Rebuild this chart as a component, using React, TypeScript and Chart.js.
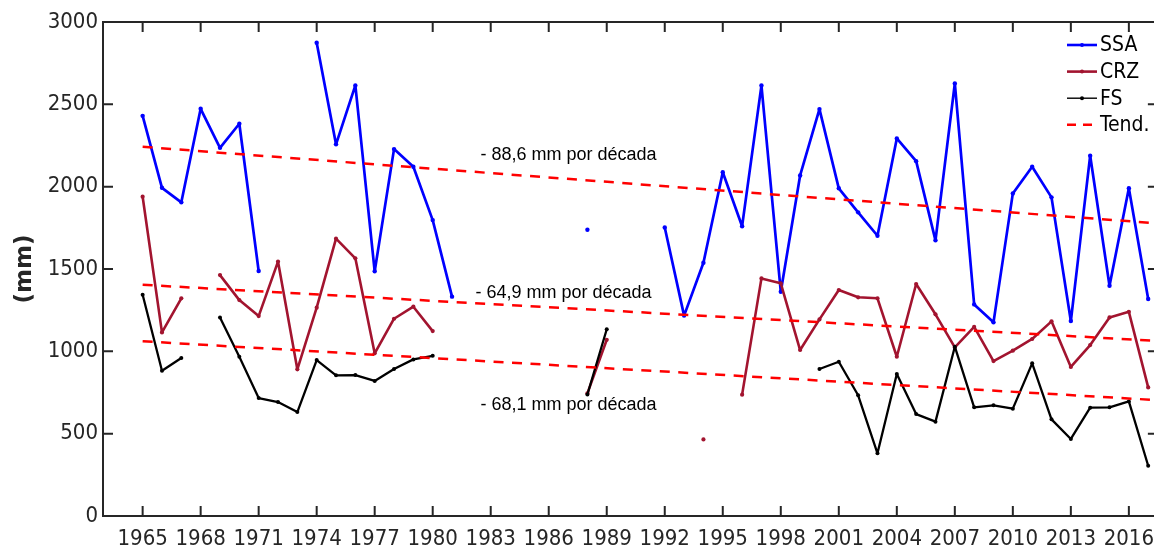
import React, { useEffect, useRef } from "react";
import { Chart, registerables } from "chart.js";

Chart.register(...registerables);

// Annual precipitation (mm) per station
const years = [
  1965, 1966, 1967, 1968, 1969, 1970, 1971, 1972, 1973, 1974,
  1975, 1976, 1977, 1978, 1979, 1980, 1981, 1982, 1983, 1984,
  1985, 1986, 1987, 1988, 1989, 1990, 1991, 1992, 1993, 1994,
  1995, 1996, 1997, 1998, 1999, 2000, 2001, 2002, 2003, 2004,
  2005, 2006, 2007, 2008, 2009, 2010, 2011, 2012, 2013, 2014,
  2015, 2016, 2017,
];

const ssa = [
  2430, 1993, 1905, 2473, 2236, 2382, 1488, null, null, 2874,
  2257, 2615, 1486, 2228, 2121, 1797, 1332, null, null, null,
  null, null, null, 1738, null, null, null, 1752, 1217, 1538,
  2088, 1760, 2614, 1362, 2068, 2471, 1990, 1844, 1702, 2293,
  2155, 1674, 2627, 1285, 1176, 1959, 2121, 1935, 1184, 2188,
  1398, 1991, 1318,
];

const crz = [
  1939, 1115, 1322, null, 1463, 1311, 1214, 1545, 891, 1265,
  1684, 1565, 988, 1198, 1271, 1123, null, null, null, null,
  null, null, null, 745, 1070, null, null, null, null, 465,
  null, 737, 1443, 1413, 1008, 1194, 1372, 1328, 1322, 967,
  1409, 1225, 1024, 1148, 941, 1004, 1075, 1182, 905, 1038,
  1206, 1240, 781,
];

const fs = [
  1344, 882, 959, null, 1206, 967, 716, 692, 631, 947,
  854, 856, 820, 893, 951, 973, null, null, null, null,
  null, null, null, 738, 1134, null, null, null, null, null,
  null, null, null, null, null, 893, 937, 733, 381, 862,
  619, 573, 1028, 660, 672, 652, 927, 587, 468, 658,
  660, 696, 305,
];

const xTickYears = [
  1965, 1968, 1971, 1974, 1977, 1980, 1983, 1986, 1989, 1992,
  1995, 1998, 2001, 2004, 2007, 2010, 2013, 2016,
];
const yTickValues = [0, 500, 1000, 1500, 2000, 2500, 3000];

// Linear trends: value at the start year and slope in mm per decade
const trendStartYear = 1965;
const trendEndYear = 2017.5;
const trendStartValues = [2242, 1404, 1061];
const trendSlopesPerDecade = [-88.6, -64.9, -68.1];
const trendLabels = [
  "- 88,6 mm por década",
  "- 64,9 mm por década",
  "- 68,1 mm por década",
];
const trendLabelYears = [1982.47, 1982.21, 1982.47];
const trendLabelValues = [2192, 1354, 674];

const X_MIN = 1962.95;
const X_MAX = 2017.3;
const X_FRAME_RIGHT = 2017.5;

const AXIS_COLOR = "#262626";
const TICK_FONT = '"DejaVu Sans Condensed", "DejaVu Sans", sans-serif';
const NOTE_FONT = '"Liberation Sans", Arial, sans-serif';

const SSA_COLOR = "#0000FF";
const CRZ_COLOR = "#A2142F";
const FS_COLOR = "#000000";
const TREND_COLOR = "#FF0000";

const legendItems = [
  { label: "SSA", color: SSA_COLOR, width: 2.6, dash: [] as number[], marker: true },
  { label: "CRZ", color: CRZ_COLOR, width: 2.6, dash: [] as number[], marker: true },
  { label: "FS", color: FS_COLOR, width: 1.4, dash: [] as number[], marker: true },
  { label: "Tend.", color: TREND_COLOR, width: 2.5, dash: [9, 7], marker: false },
];

const toPoints = (vals: (number | null)[]) =>
  years.map((yr, i) => ({ x: yr, y: vals[i] }));

// Boxed axes with inward ticks, trend notes and the legend
const framePlugin = {
  id: "matlabFrame",
  afterDatasetsDraw(chart: any) {
    const { ctx, chartArea } = chart;
    const { left, top, bottom, right } = chartArea;
    const xs = chart.scales.x;
    const ys = chart.scales.y;
    const rightX = xs.getPixelForValue(X_FRAME_RIGHT);

    ctx.save();
    ctx.strokeStyle = AXIS_COLOR;
    ctx.lineWidth = 2;
    ctx.setLineDash([]);
    ctx.beginPath();
    ctx.moveTo(rightX, top);
    ctx.lineTo(left, top);
    ctx.lineTo(left, bottom);
    ctx.lineTo(rightX, bottom);
    ctx.lineTo(rightX, top);
    const tl = 10;
    xTickYears.forEach((v) => {
      const px = xs.getPixelForValue(v);
      ctx.moveTo(px, bottom);
      ctx.lineTo(px, bottom - tl);
      ctx.moveTo(px, top);
      ctx.lineTo(px, top + tl);
    });
    yTickValues.forEach((v) => {
      const py = ys.getPixelForValue(v);
      ctx.moveTo(left, py);
      ctx.lineTo(left + tl, py);
      ctx.moveTo(rightX, py);
      ctx.lineTo(rightX - tl, py);
    });
    ctx.stroke();

    // trend annotations
    ctx.fillStyle = "#000000";
    ctx.font = `18px ${NOTE_FONT}`;
    ctx.textAlign = "left";
    ctx.textBaseline = "middle";
    trendLabels.forEach((t, i) => {
      ctx.fillText(
        t,
        xs.getPixelForValue(trendLabelYears[i]),
        ys.getPixelForValue(trendLabelValues[i])
      );
    });

    // legend
    const lx0 = right - 87;
    const lx1 = right - 57;
    const rowY0 = top + 23;
    const rowH = 26.6;
    ctx.font = `21px ${TICK_FONT}`;
    legendItems.forEach((it, i) => {
      const yy = rowY0 + i * rowH;
      ctx.strokeStyle = it.color;
      ctx.lineWidth = it.width;
      ctx.setLineDash(it.dash);
      ctx.beginPath();
      ctx.moveTo(lx0, yy);
      ctx.lineTo(lx1, yy);
      ctx.stroke();
      ctx.setLineDash([]);
      if (it.marker) {
        ctx.fillStyle = it.color;
        ctx.beginPath();
        ctx.arc((lx0 + lx1) / 2, yy, 2, 0, Math.PI * 2);
        ctx.fill();
      }
      ctx.fillStyle = "#000000";
      ctx.fillText(it.label, lx1 + 3, yy + 1);
    });
    ctx.restore();
  },
};

export default function App() {
  const canvasRef = useRef<HTMLCanvasElement | null>(null);

  useEffect(() => {
    if (!canvasRef.current) return;

    const seriesStyle = (color: string, width: number, radius: number) => ({
      borderColor: color,
      backgroundColor: color,
      pointBackgroundColor: color,
      pointBorderColor: color,
      borderWidth: width,
      borderJoinStyle: "round",
      borderCapStyle: "round",
      pointRadius: radius,
      pointBorderWidth: 0,
      tension: 0,
      spanGaps: false,
    });

    const trendSets = trendStartValues.map((v0, i) => ({
      label: "Tend.",
      data: [
        { x: trendStartYear, y: v0 },
        {
          x: trendEndYear,
          y: v0 + (trendSlopesPerDecade[i] / 10) * (trendEndYear - trendStartYear),
        },
      ],
      borderColor: TREND_COLOR,
      borderWidth: 2.5,
      borderDash: [10, 8.5],
      pointRadius: 0,
      order: 0,
    }));

    const chart = new Chart(canvasRef.current, {
      type: "line",
      data: {
        datasets: [
          { label: "SSA", data: toPoints(ssa), ...seriesStyle(SSA_COLOR, 2.7, 2.2), order: 3 },
          { label: "CRZ", data: toPoints(crz), ...seriesStyle(CRZ_COLOR, 2.6, 2.1), order: 2 },
          { label: "FS", data: toPoints(fs), ...seriesStyle(FS_COLOR, 2.3, 2.0), order: 1 },
          ...trendSets,
        ] as any,
      },
      options: {
        animation: false,
        responsive: false,
        devicePixelRatio: 1,
        layout: { autoPadding: false, padding: { top: 22, right: 0, bottom: 0, left: 0 } },
        plugins: {
          legend: { display: false },
          tooltip: { enabled: false },
        },
        scales: {
          x: {
            type: "linear",
            min: X_MIN,
            max: X_MAX,
            grid: { display: false, drawTicks: false },
            border: { display: false },
            afterBuildTicks: (s: any) => {
              s.ticks = xTickYears.map((v) => ({ value: v }));
            },
            afterFit: (s: any) => {
              s.height = 33;
              s.paddingLeft = 0;
              s.paddingRight = 0;
            },
            ticks: {
              padding: 10,
              color: AXIS_COLOR,
              maxRotation: 0,
              autoSkip: false,
              font: { family: TICK_FONT, size: 22 },
              callback: (v: any) => String(v),
            },
          },
          y: {
            type: "linear",
            min: 0,
            max: 3000,
            grid: { display: false, drawTicks: false },
            border: { display: false },
            afterBuildTicks: (s: any) => {
              s.ticks = yTickValues.map((v) => ({ value: v }));
            },
            afterFit: (s: any) => {
              s.width = 103;
              s.paddingTop = 0;
              s.paddingBottom = 0;
            },
            ticks: {
              padding: 5,
              color: AXIS_COLOR,
              font: { family: TICK_FONT, size: 22 },
              callback: (v: any) => String(v),
            },
            title: {
              display: true,
              text: "(mm)",
              color: AXIS_COLOR,
              font: { family: '"DejaVu Sans", sans-serif', size: 23, weight: "bold" },
              padding: { top: 11, bottom: 0 },
            },
          },
        },
      },
      plugins: [framePlugin],
    });

    return () => chart.destroy();
  }, []);

  return (
    <div
      style={{
        position: "fixed",
        left: 0,
        top: 0,
        width: 1154,
        height: 549,
        background: "#ffffff",
        overflow: "hidden",
      }}
    >
      <canvas
        ref={canvasRef}
        width={1154}
        height={549}
        style={{ display: "block", width: 1154, height: 549 }}
      />
    </div>
  );
}
